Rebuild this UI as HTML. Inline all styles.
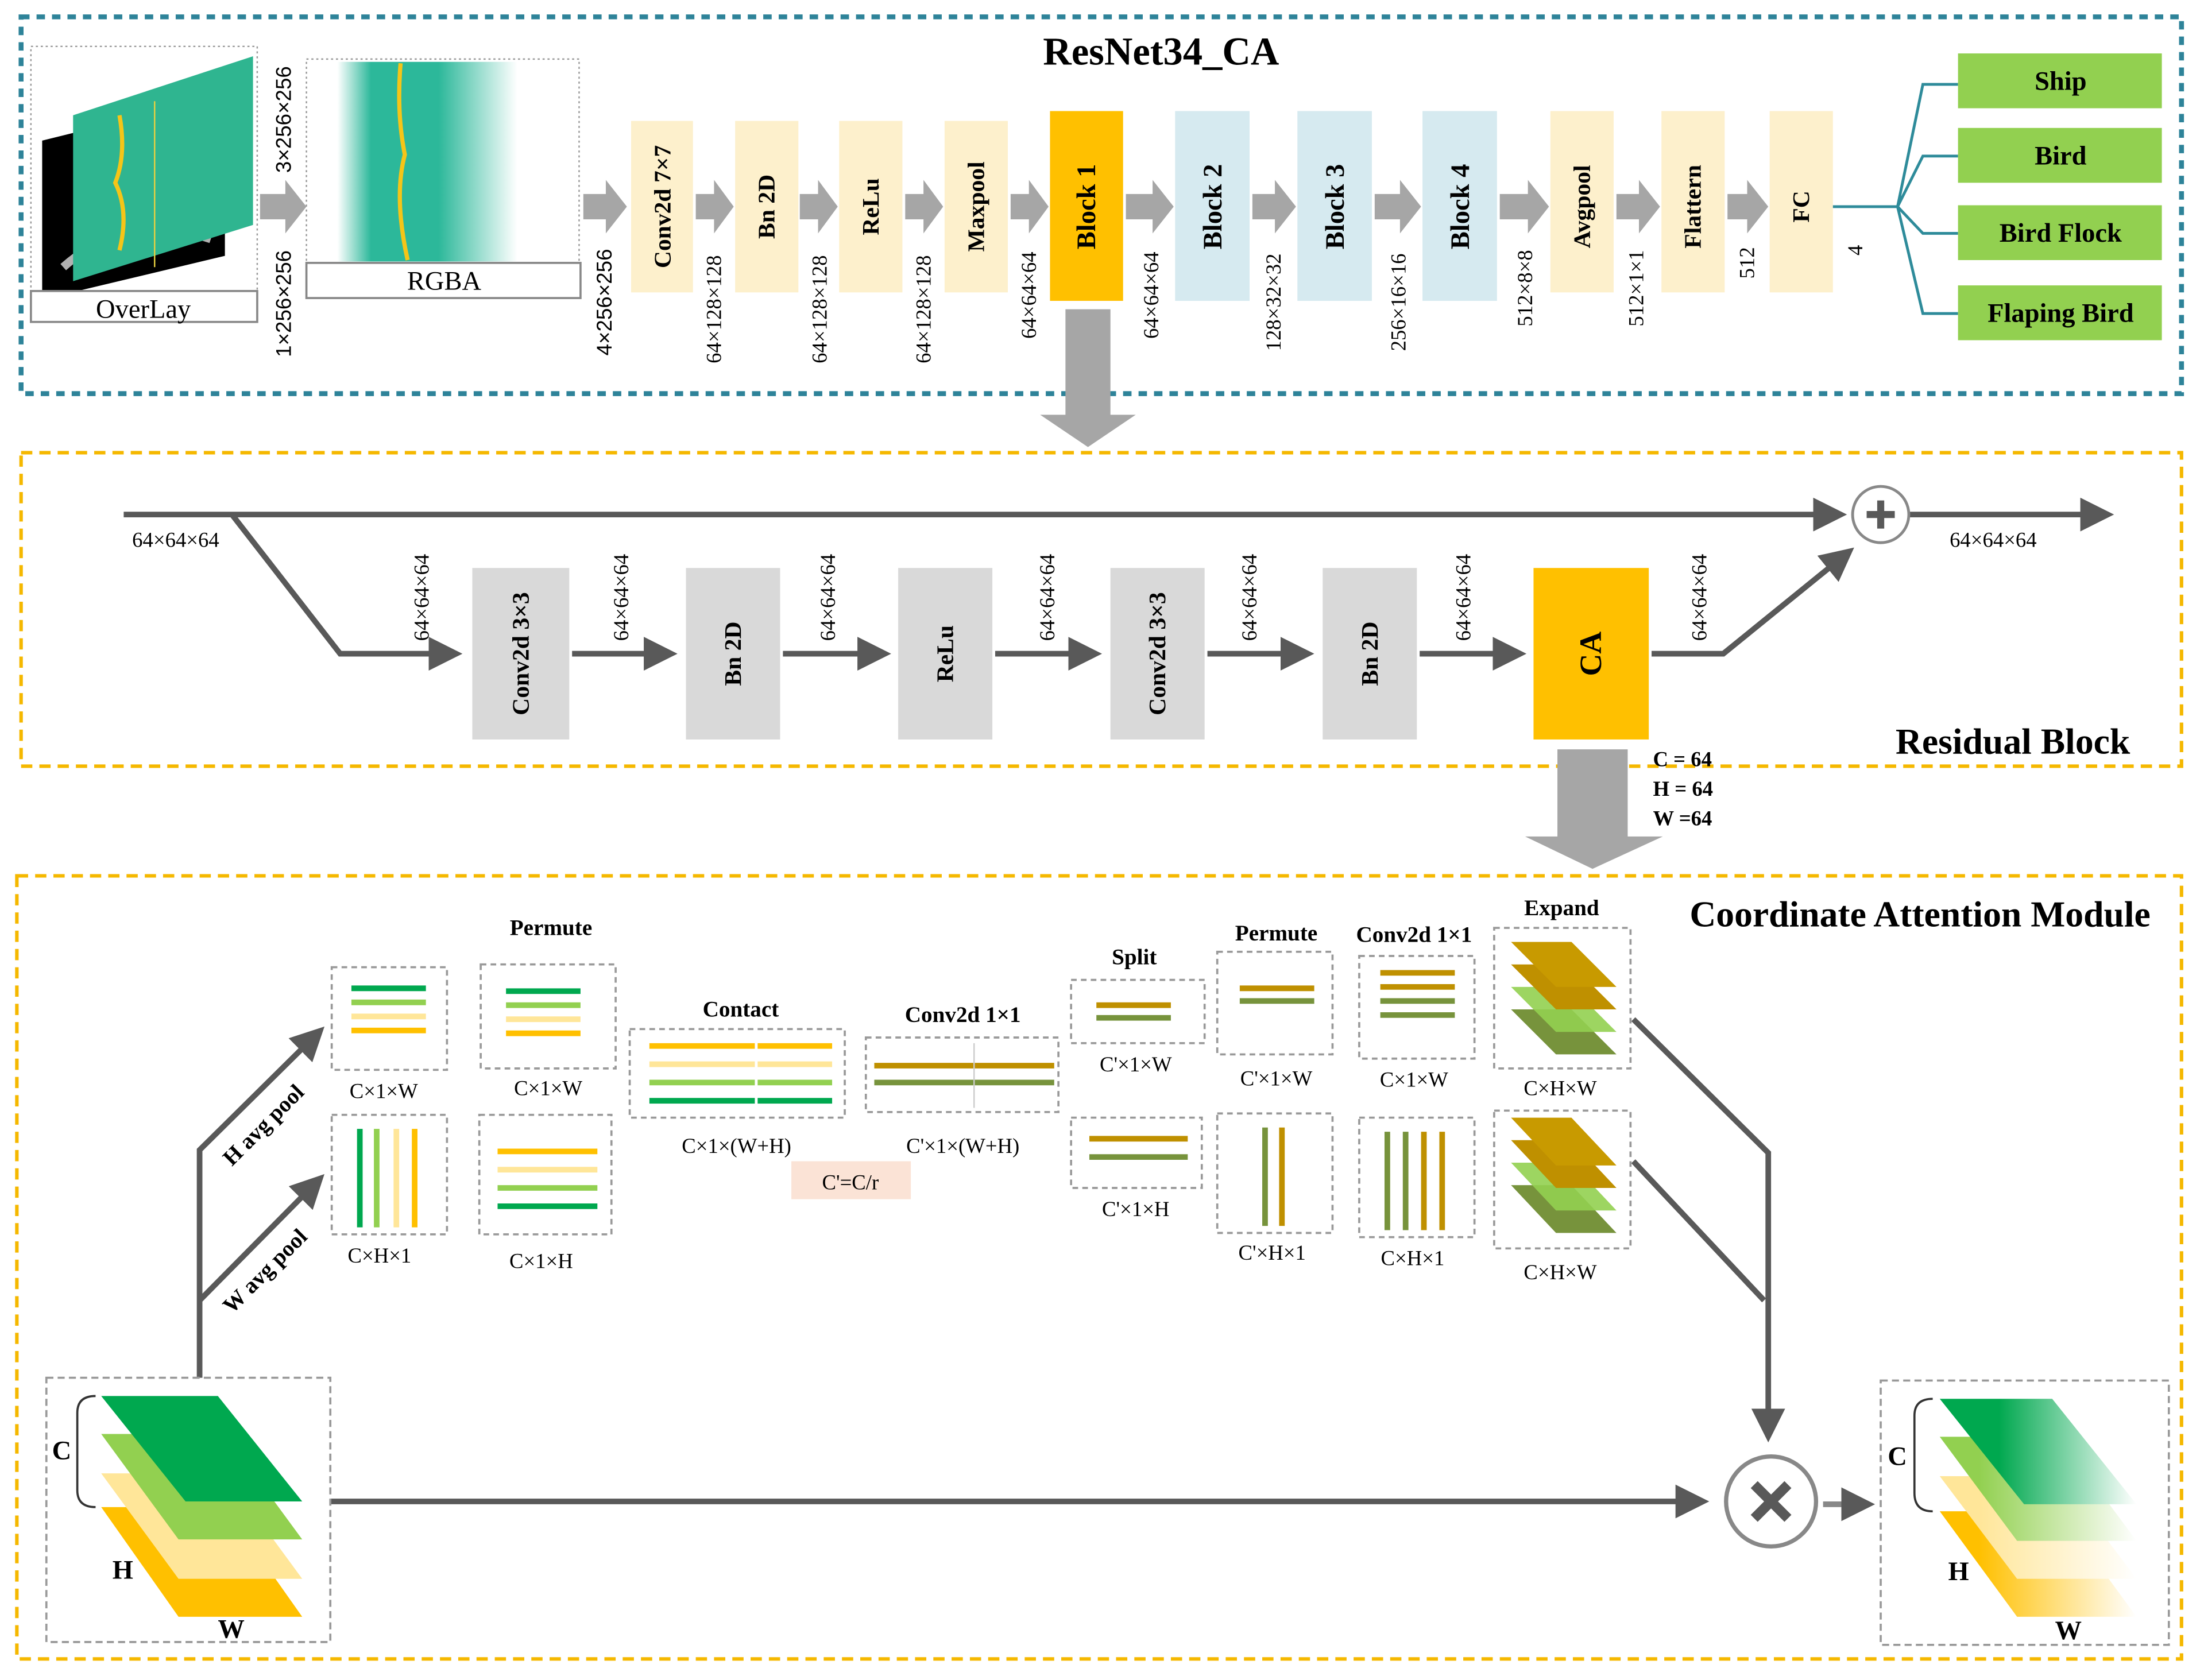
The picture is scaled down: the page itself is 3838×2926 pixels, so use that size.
<!DOCTYPE html><html><head><meta charset="utf-8"><style>html,body{margin:0;padding:0;background:#fff}svg{display:block}</style></head><body>
<svg width="3838" height="2926" viewBox="0 0 1568 1195" preserveAspectRatio="none" xmlns="http://www.w3.org/2000/svg" font-family="Liberation Serif, serif">
<defs>
<marker id="ah" markerWidth="6" markerHeight="6" refX="5" refY="3" orient="auto" markerUnits="strokeWidth"><path d="M0,0 L6,3 L0,6 z" fill="#595959"/></marker>
<linearGradient id="rg" x1="0" x2="1"><stop offset="0" stop-color="#fff"/><stop offset=".15" stop-color="#2cb89a"/><stop offset=".45" stop-color="#2cb89a"/><stop offset=".8" stop-color="#fff"/></linearGradient>
<linearGradient id="og1" x1="0" x2="1"><stop offset="0.3" stop-color="#00a84f"/><stop offset="1" stop-color="#fff"/></linearGradient>
<linearGradient id="og2" x1="0" x2="1"><stop offset="0.2" stop-color="#92d050"/><stop offset="1" stop-color="#fff"/></linearGradient>
<linearGradient id="og3" x1="0" x2="1"><stop offset="0.2" stop-color="#ffe699"/><stop offset="1" stop-color="#fff"/></linearGradient>
<linearGradient id="og4" x1="0" x2="1"><stop offset="0.2" stop-color="#ffc000"/><stop offset="1" stop-color="#fff"/></linearGradient>
</defs>
<!-- TOP PANEL -->
<rect x="15" y="12" width="1537" height="268" fill="none" stroke="#2e8399" stroke-width="3.5" stroke-dasharray="6,5"/>
<text x="826" y="46" font-size="28" font-weight="bold" text-anchor="middle">ResNet34_CA</text>
<rect x="22" y="33" width="161" height="196" fill="none" stroke="#999" stroke-dasharray="1.5,2"/>
<polygon points="30,100 160,68 160,182 30,213" fill="#000"/>
<path d="M45,190 Q90,150 150,170" stroke="#ddd" stroke-width="6" fill="none" opacity=".8"/>
<polygon points="52,82 180,40 180,160 52,200" fill="#2fb590"/>
<path d="M85,82 Q90,110 82,130 Q92,150 85,178" stroke="#f5c518" stroke-width="3" fill="none"/>
<line x1="110" y1="72" x2="110" y2="190" stroke="#e8d040" stroke-width="1"/>
<rect x="22" y="207" width="161" height="22" fill="#fff" stroke="#888" stroke-width="1.5"/>
<text x="102" y="226" font-size="19" text-anchor="middle">OverLay</text>
<rect x="218" y="42" width="194" height="170" fill="none" stroke="#999" stroke-dasharray="1.5,2"/>
<rect x="240" y="44" width="160" height="142" fill="url(#rg)"/>
<path d="M285,45 Q282,80 288,110 Q280,140 290,185" stroke="#f5c518" stroke-width="3" fill="none"/>
<rect x="218" y="187" width="195" height="25" fill="#fff" stroke="#888" stroke-width="1.5"/>
<text x="316" y="206" font-size="19" text-anchor="middle">RGBA</text>
<g fill="#a6a6a6">
<polygon points="185,138 203,138 203,128 218,147 203,166 203,156 185,156"/>
<polygon points="415,138 431,138 431,128 446,147 431,166 431,156 415,156"/>
<polygon points="495,138 508,138 508,128 522,147 508,166 508,156 495,156"/>
<polygon points="569,138 582,138 582,128 596,147 582,166 582,156 569,156"/>
<polygon points="644,138 657,138 657,128 671,147 657,166 657,156 644,156"/>
<polygon points="719,138 732,138 732,128 746,147 732,166 732,156 719,156"/>
<polygon points="801,138 820,138 820,128 835,147 820,166 820,156 801,156"/>
<polygon points="891,138 907,138 907,128 922,147 907,166 907,156 891,156"/>
<polygon points="978,138 996,138 996,128 1011,147 996,166 996,156 978,156"/>
<polygon points="1067,138 1087,138 1087,128 1102,147 1087,166 1087,156 1067,156"/>
<polygon points="1150,138 1166,138 1166,128 1181,147 1166,166 1166,156 1150,156"/>
<polygon points="1229,138 1243,138 1243,128 1258,147 1243,166 1243,156 1229,156"/>
<polygon points="758,220 790,220 790,295 808,295 774,318 740,295 758,295"/>
</g>
<g font-weight="bold" font-size="17" text-anchor="middle">
<rect x="449" y="86" width="44" height="122" fill="#fdf0cc"/><text transform="translate(477,147) rotate(-90)">Conv2d 7×7</text>
<rect x="523" y="86" width="45" height="122" fill="#fdf0cc"/><text transform="translate(551,147) rotate(-90)">Bn 2D</text>
<rect x="597" y="86" width="45" height="122" fill="#fdf0cc"/><text transform="translate(625,147) rotate(-90)">ReLu</text>
<rect x="672" y="86" width="45" height="122" fill="#fdf0cc"/><text transform="translate(700,147) rotate(-90)">Maxpool</text>
<rect x="747" y="79" width="52" height="135" fill="#ffc000"/><text transform="translate(779,147) rotate(-90)" font-size="19">Block 1</text>
<rect x="836" y="79" width="53" height="135" fill="#d6eaf0"/><text transform="translate(869,147) rotate(-90)" font-size="19">Block 2</text>
<rect x="923" y="79" width="53" height="135" fill="#d6eaf0"/><text transform="translate(956,147) rotate(-90)" font-size="19">Block 3</text>
<rect x="1012" y="79" width="53" height="135" fill="#d6eaf0"/><text transform="translate(1045,147) rotate(-90)" font-size="19">Block 4</text>
<rect x="1103" y="79" width="45" height="129" fill="#fdf0cc"/><text transform="translate(1131,147) rotate(-90)">Avgpool</text>
<rect x="1182" y="79" width="45" height="129" fill="#fdf0cc"/><text transform="translate(1210,147) rotate(-90)">Flattern</text>
<rect x="1259" y="79" width="45" height="129" fill="#fdf0cc"/><text transform="translate(1287,147) rotate(-90)">FC</text>
</g>
<g font-size="15" text-anchor="middle" font-family="Liberation Sans, sans-serif">
<text transform="translate(207,85) rotate(-90)">3×256×256</text>
<text transform="translate(207,216) rotate(-90)">1×256×256</text>
<text transform="translate(435,215) rotate(-90)">4×256×256</text>
<text transform="translate(513,220) rotate(-90)" font-family="Liberation Serif, serif">64×128×128</text>
<text transform="translate(588,220) rotate(-90)" font-family="Liberation Serif, serif">64×128×128</text>
<text transform="translate(662,220) rotate(-90)" font-family="Liberation Serif, serif">64×128×128</text>
<text transform="translate(737,210) rotate(-90)" font-family="Liberation Serif, serif">64×64×64</text>
<text transform="translate(824,210) rotate(-90)" font-family="Liberation Serif, serif">64×64×64</text>
<text transform="translate(911,215) rotate(-90)" font-family="Liberation Serif, serif">128×32×32</text>
<text transform="translate(1000,215) rotate(-90)" font-family="Liberation Serif, serif">256×16×16</text>
<text transform="translate(1090,205) rotate(-90)" font-family="Liberation Serif, serif">512×8×8</text>
<text transform="translate(1169,205) rotate(-90)" font-family="Liberation Serif, serif">512×1×1</text>
<text transform="translate(1248,187) rotate(-90)" font-family="Liberation Serif, serif">512</text>
<text transform="translate(1325,178) rotate(-90)" font-family="Liberation Serif, serif">4</text>
</g>
<g stroke="#2e8b9a" stroke-width="2" fill="none">
<path d="M1304,147 H1350 L1368,60 H1393 M1350,147 L1368,111 H1393 M1350,147 L1368,166 H1393 M1350,147 L1368,223 H1393"/>
</g>
<g font-weight="bold" font-size="19" text-anchor="middle">
<rect x="1393" y="38" width="145" height="39" fill="#92d050"/><text x="1466" y="64">Ship</text>
<rect x="1393" y="91" width="145" height="39" fill="#92d050"/><text x="1466" y="117">Bird</text>
<rect x="1393" y="146" width="145" height="39" fill="#92d050"/><text x="1466" y="172">Bird Flock</text>
<rect x="1393" y="203" width="145" height="39" fill="#92d050"/><text x="1466" y="229">Flaping Bird</text>
</g>
<!-- RESIDUAL -->
<rect x="15" y="322" width="1537" height="223" fill="none" stroke="#f5b800" stroke-width="2.5" stroke-dasharray="8,5"/>
<g stroke="#595959" stroke-width="4" fill="none">
<line x1="88" y1="366" x2="1310" y2="366" marker-end="url(#ah)"/>
<line x1="1358" y1="366" x2="1500" y2="366" marker-end="url(#ah)"/>
<polyline points="165,366 242,465 325,465" marker-end="url(#ah)"/>
<line x1="407" y1="465" x2="478" y2="465" marker-end="url(#ah)"/>
<line x1="557" y1="465" x2="630" y2="465" marker-end="url(#ah)"/>
<line x1="708" y1="465" x2="780" y2="465" marker-end="url(#ah)"/>
<line x1="859" y1="465" x2="931" y2="465" marker-end="url(#ah)"/>
<line x1="1010" y1="465" x2="1082" y2="465" marker-end="url(#ah)"/>
<polyline points="1175,465 1226,465 1316,392" marker-end="url(#ah)"/>
</g>
<circle cx="1338" cy="366" r="20" fill="#fff" stroke="#888" stroke-width="2"/>
<path d="M1328,366 H1348 M1338,356 V376" stroke="#595959" stroke-width="5"/>
<g font-size="15" text-anchor="middle">
<text x="125" y="389">64×64×64</text><text x="1418" y="389">64×64×64</text>
<text transform="translate(305,425) rotate(-90)">64×64×64</text>
<text transform="translate(447,425) rotate(-90)">64×64×64</text>
<text transform="translate(594,425) rotate(-90)">64×64×64</text>
<text transform="translate(750,425) rotate(-90)">64×64×64</text>
<text transform="translate(894,425) rotate(-90)">64×64×64</text>
<text transform="translate(1046,425) rotate(-90)">64×64×64</text>
<text transform="translate(1214,425) rotate(-90)">64×64×64</text>
</g>
<g font-weight="bold" font-size="17" text-anchor="middle">
<rect x="336" y="404" width="69" height="122" fill="#d9d9d9"/><text transform="translate(376,465) rotate(-90)">Conv2d 3×3</text>
<rect x="488" y="404" width="67" height="122" fill="#d9d9d9"/><text transform="translate(527,465) rotate(-90)">Bn 2D</text>
<rect x="639" y="404" width="67" height="122" fill="#d9d9d9"/><text transform="translate(678,465) rotate(-90)">ReLu</text>
<rect x="790" y="404" width="67" height="122" fill="#d9d9d9"/><text transform="translate(829,465) rotate(-90)">Conv2d 3×3</text>
<rect x="941" y="404" width="67" height="122" fill="#d9d9d9"/><text transform="translate(980,465) rotate(-90)">Bn 2D</text>
<rect x="1091" y="404" width="82" height="122" fill="#ffc000"/><text transform="translate(1139,465) rotate(-90)" font-size="22">CA</text>
</g>
<text x="1432" y="536" font-size="26" font-weight="bold" text-anchor="middle">Residual Block</text>
<polygon points="1108,533 1158,533 1158,595 1183,595 1133,618 1085,595 1108,595" fill="#a6a6a6"/>
<g font-size="15" font-weight="bold"><text x="1176" y="545">C = 64</text><text x="1176" y="566">H = 64</text><text x="1176" y="587">W =64</text></g>
<!-- CA MODULE -->
<rect x="12" y="623" width="1540" height="557" fill="none" stroke="#f5b800" stroke-width="2.5" stroke-dasharray="8,5"/>
<text x="1366" y="659" font-size="26" font-weight="bold" text-anchor="middle">Coordinate Attention Module</text>
<g stroke="#595959" stroke-width="4" fill="none">
<polyline points="142,980 142,818 228,733" marker-end="url(#ah)"/>
<line x1="142" y1="925" x2="228" y2="838" marker-end="url(#ah)"/>
<line x1="235" y1="1068" x2="1212" y2="1068" marker-end="url(#ah)"/>
<polyline points="1162,725 1258,820 1258,1022" marker-end="url(#ah)"/>
<polyline points="1162,826 1255,925"/>
<line x1="1297" y1="1070" x2="1330" y2="1070" stroke="#888" marker-end="url(#ah)"/>
</g>
<circle cx="1260" cy="1068" r="32" fill="#fff" stroke="#888" stroke-width="3"/>
<path d="M1248,1056 L1272,1080 M1272,1056 L1248,1080" stroke="#595959" stroke-width="7"/>
<g font-weight="bold" font-size="16"><text transform="translate(165,830) rotate(-45)">H avg pool</text><text transform="translate(165,935) rotate(-45)">W avg pool</text></g>
<!-- input stack -->
<rect x="33" y="980" width="202" height="188" fill="none" stroke="#999" stroke-width="1.5" stroke-dasharray="5,3"/>
<polygon points="72,1072 160,1072 215,1150 127,1150" fill="#ffc000"/>
<polygon points="72,1048 160,1048 215,1123 127,1123" fill="#ffe699"/>
<polygon points="72,1020 160,1020 215,1095 127,1095" fill="#92d050"/>
<polygon points="72,993 155,993 215,1068 132,1068" fill="#00a84f"/>
<path d="M68,993 Q55,993 55,1005 V1060 Q55,1072 68,1072" stroke="#333" fill="none" stroke-width="1.5"/>
<g font-weight="bold" font-size="19"><text x="37" y="1038">C</text><text x="80" y="1123">H</text><text x="155" y="1165">W</text></g>
<!-- output stack -->
<rect x="1338" y="982" width="205" height="188" fill="none" stroke="#999" stroke-width="1.5" stroke-dasharray="5,3"/>
<polygon points="1380,1075 1465,1075 1520,1150 1435,1150" fill="url(#og4)"/>
<polygon points="1380,1050 1465,1050 1520,1123 1435,1123" fill="url(#og3)"/>
<polygon points="1380,1022 1465,1022 1520,1096 1435,1096" fill="url(#og2)"/>
<polygon points="1380,995 1460,995 1520,1070 1440,1070" fill="url(#og1)"/>
<path d="M1375,995 Q1362,995 1362,1007 V1062 Q1362,1075 1375,1075" stroke="#333" fill="none" stroke-width="1.5"/>
<g font-weight="bold" font-size="19"><text x="1343" y="1042">C</text><text x="1386" y="1124">H</text><text x="1462" y="1166">W</text></g>
<!-- small boxes -->
<g fill="none" stroke="#999" stroke-width="1.5" stroke-dasharray="4,3">
<rect x="236" y="688" width="82" height="73"/><rect x="342" y="686" width="96" height="74"/>
<rect x="236" y="793" width="82" height="85"/><rect x="341" y="793" width="94" height="85"/>
<rect x="448" y="732" width="153" height="63"/><rect x="616" y="738" width="137" height="53"/>
<rect x="762" y="697" width="95" height="45"/><rect x="762" y="795" width="93" height="50"/>
<rect x="866" y="677" width="82" height="73"/><rect x="866" y="792" width="82" height="85"/>
<rect x="967" y="680" width="82" height="73"/><rect x="967" y="795" width="82" height="85"/>
<rect x="1063" y="660" width="97" height="100"/><rect x="1063" y="790" width="97" height="98"/>
</g>
<g stroke-width="4">
<line x1="250" y1="703" x2="303" y2="703" stroke="#00a84f"/><line x1="250" y1="713" x2="303" y2="713" stroke="#92d050"/><line x1="250" y1="723" x2="303" y2="723" stroke="#ffe699"/><line x1="250" y1="733" x2="303" y2="733" stroke="#ffc000"/>
<line x1="360" y1="705" x2="413" y2="705" stroke="#00a84f"/><line x1="360" y1="715" x2="413" y2="715" stroke="#92d050"/><line x1="360" y1="725" x2="413" y2="725" stroke="#ffe699"/><line x1="360" y1="735" x2="413" y2="735" stroke="#ffc000"/>
<line x1="256" y1="803" x2="256" y2="873" stroke="#00a84f"/><line x1="268" y1="803" x2="268" y2="873" stroke="#92d050"/><line x1="282" y1="803" x2="282" y2="873" stroke="#ffe699"/><line x1="295" y1="803" x2="295" y2="873" stroke="#ffc000"/>
<line x1="354" y1="819" x2="425" y2="819" stroke="#ffc000"/><line x1="354" y1="832" x2="425" y2="832" stroke="#ffe699"/><line x1="354" y1="845" x2="425" y2="845" stroke="#92d050"/><line x1="354" y1="858" x2="425" y2="858" stroke="#00a84f"/>
<line x1="462" y1="744" x2="592" y2="744" stroke="#ffc000"/><line x1="462" y1="757" x2="592" y2="757" stroke="#ffe699"/><line x1="462" y1="770" x2="592" y2="770" stroke="#92d050"/><line x1="462" y1="783" x2="592" y2="783" stroke="#00a84f"/>
<line x1="622" y1="758" x2="750" y2="758" stroke="#bf9000"/><line x1="622" y1="770" x2="750" y2="770" stroke="#77933c"/>
<line x1="780" y1="715" x2="833" y2="715" stroke="#bf9000"/><line x1="780" y1="724" x2="833" y2="724" stroke="#77933c"/>
<line x1="775" y1="810" x2="845" y2="810" stroke="#bf9000"/><line x1="775" y1="823" x2="845" y2="823" stroke="#77933c"/>
<line x1="882" y1="703" x2="935" y2="703" stroke="#bf9000"/><line x1="882" y1="712" x2="935" y2="712" stroke="#77933c"/>
<line x1="900" y1="802" x2="900" y2="872" stroke="#77933c"/><line x1="912" y1="802" x2="912" y2="872" stroke="#bf9000"/>
<line x1="982" y1="692" x2="1035" y2="692" stroke="#bf9000"/><line x1="982" y1="702" x2="1035" y2="702" stroke="#bf9000"/><line x1="982" y1="712" x2="1035" y2="712" stroke="#77933c"/><line x1="982" y1="722" x2="1035" y2="722" stroke="#77933c"/>
<line x1="987" y1="805" x2="987" y2="875" stroke="#77933c"/><line x1="1000" y1="805" x2="1000" y2="875" stroke="#77933c"/><line x1="1013" y1="805" x2="1013" y2="875" stroke="#bf9000"/><line x1="1026" y1="805" x2="1026" y2="875" stroke="#bf9000"/>
</g>
<line x1="538" y1="738" x2="538" y2="790" stroke="#fff" stroke-width="2"/>
<line x1="693" y1="742" x2="693" y2="788" stroke="#ccc" stroke-width="1"/>
<g>
<polygon points="1075,718 1118,718 1150,750 1107,750" fill="#77933c"/><polygon points="1075,702 1118,702 1150,734 1107,734" fill="#92d050" opacity=".9"/><polygon points="1075,686 1118,686 1150,718 1107,718" fill="#bf9000"/><polygon points="1075,670 1118,670 1150,702 1107,702" fill="#c89a00"/>
<polygon points="1075,843 1118,843 1150,877 1107,877" fill="#77933c"/><polygon points="1075,827 1118,827 1150,861 1107,861" fill="#92d050" opacity=".9"/><polygon points="1075,811 1118,811 1150,845 1107,845" fill="#bf9000"/><polygon points="1075,795 1118,795 1150,829 1107,829" fill="#c89a00"/>
</g>
<rect x="563" y="826" width="85" height="27" fill="#fbe3d6"/>
<text x="605" y="846" font-size="15" text-anchor="middle">C'=C/r</text>
<g font-weight="bold" font-size="16" text-anchor="middle">
<text x="392" y="665">Permute</text><text x="527" y="723">Contact</text><text x="685" y="727">Conv2d 1×1</text><text x="807" y="686">Split</text><text x="908" y="669">Permute</text><text x="1006" y="670">Conv2d 1×1</text><text x="1111" y="651">Expand</text>
</g>
<g font-size="15" text-anchor="middle">
<text x="273" y="781">C×1×W</text><text x="390" y="779">C×1×W</text><text x="270" y="898">C×H×1</text><text x="385" y="902">C×1×H</text>
<text x="524" y="820">C×1×(W+H)</text><text x="685" y="820">C'×1×(W+H)</text>
<text x="808" y="762">C'×1×W</text><text x="808" y="865">C'×1×H</text>
<text x="908" y="772">C'×1×W</text><text x="905" y="896">C'×H×1</text>
<text x="1006" y="773">C×1×W</text><text x="1005" y="900">C×H×1</text>
<text x="1110" y="779">C×H×W</text><text x="1110" y="910">C×H×W</text>
</g>
</svg>
</body></html>
